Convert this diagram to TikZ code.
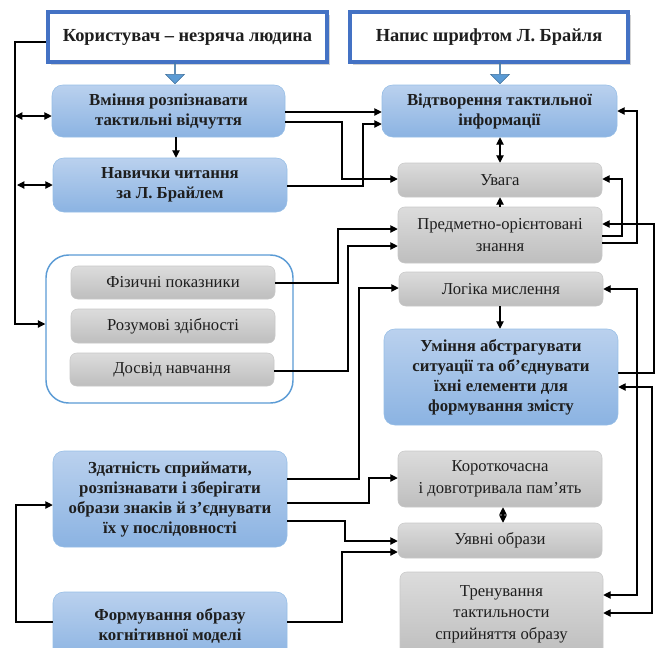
\documentclass[tikz,border=0pt]{standalone}
\usepackage{fontspec}
\setmainfont{Liberation Serif}
\usetikzlibrary{positioning,arrows.meta,shapes.arrows,shadows}
\definecolor{titleblue}{RGB}{68,114,196}
\definecolor{bluetop}{RGB}{186,209,238}
\definecolor{bluebot}{RGB}{139,179,226}
\definecolor{blueedge}{RGB}{150,190,230}
\definecolor{graytop}{RGB}{220,220,220}
\definecolor{graybot}{RGB}{190,190,190}
\definecolor{grayedge}{RGB}{200,200,200}
\definecolor{grpedge}{RGB}{91,155,213}
\definecolor{arrfill}{RGB}{91,155,213}
\definecolor{arredge}{RGB}{65,113,156}
\definecolor{txt}{RGB}{30,30,30}

\begin{document}
\begin{tikzpicture}[
    x=0.75pt, y=-0.75pt,
    every node/.style={font=\rmfamily\fontsize{12.5}{15}\selectfont, text=txt},
    wh/.style 2 args={minimum width=#1*0.75pt, minimum height=#2*0.75pt},
    titlebox/.style={
        rectangle, draw=titleblue, line width=3pt, fill=white, inner sep=0pt,
        drop shadow={shadow xshift=2pt, shadow yshift=-2pt, opacity=0.35},
        font=\rmfamily\fontsize{13.8}{16}\selectfont\bfseries, align=center
    },
    skillbox/.style={
        rectangle, rounded corners=8pt, draw=blueedge, top color=bluetop,
        bottom color=bluebot, inner sep=0pt, align=center,
        font=\rmfamily\fontsize{12.6}{15}\selectfont\bfseries
    },
    factor/.style={
        rectangle, rounded corners=5pt, draw=grayedge, top color=graytop,
        bottom color=graybot, inner sep=0pt, align=center,
        font=\rmfamily\fontsize{12.5}{16.2}\selectfont
    },
    groupbox/.style={
        rectangle, rounded corners=17pt, draw=grpedge, line width=1.1pt, fill=white
    },
    blockarrow/.style={
        single arrow, draw=arredge, fill=arrfill, rotate=-90, inner sep=0pt,
        minimum height=21*0.75pt, minimum width=19*0.75pt,
        single arrow head extend=4*0.75pt
    },
    conn/.style={-{Triangle[length=5.5pt,width=5.5pt]}, line width=0.8pt},
    both/.style={{Triangle[length=5.5pt,width=5.5pt]}-{Triangle[length=5.5pt,width=5.5pt]}, line width=0.8pt}
]
\useasboundingbox (0,0) rectangle (657,647);

% Top: user and the braille text
\node[titlebox, wh={279}{50}] (user)    at (187.5,37) {Користувач – незряча людина};
\node[titlebox, wh={278}{50}] (braille) at (489,37)   {Напис шрифтом Л. Брайля};

% Left column
\node[skillbox, wh={233}{52}] (vmin) at (168.5,111) {Вміння розпізнавати\\тактильні відчуття};
\node[skillbox, wh={234}{54}] (navy) at (170,185)   {Навички читання\\за Л. Брайлем};

\node[groupbox, wh={247}{148}] (grp) at (169.5,329) {};
\node[factor, wh={204}{33}] (fiz)    at (173,282.5) {Фізичні показники};
\node[factor, wh={204}{34}] (rozum)  at (173,326)   {Розумові здібності};
\node[factor, wh={204}{33}] (dosvid) at (172,369.5) {Досвід навчання};

\node[skillbox, wh={234}{96}] (zdat) at (170,499) {Здатність сприймати,\\розпізнавати і зберігати\\образи знаків й з’єднувати\\їх у послідовності};
\node[skillbox, wh={234}{68}] (form) at (170,626) {Формування образу\\когнітивної моделі};

% Right column
\node[skillbox, wh={235}{52}] (vidt)   at (499.5,111) {Відтворення тактильної\\інформації};
\node[factor, wh={204}{34}]   (uvaga)  at (500,180)   {Увага};
\node[factor, wh={204}{56}]   (predm)  at (500,235)   {Предметно-орієнтовані\\знання};
\node[factor, wh={204}{34}]   (logika) at (501,289)   {Логіка мислення};
\node[skillbox, wh={234}{96}] (umin)   at (501,377)   {Уміння абстрагувати\\ситуації та об’єднувати\\їхні елементи для\\формування змісту};
\node[factor, wh={204}{56}]   (korot)  at (500,479)   {Короткочасна\\і довготривала пам’ять};
\node[factor, wh={204}{35}]   (uyav)   at (500,540.5) {Уявні образи};
\node[factor, wh={203}{84}]   (tren)   at (501.5,614) {Тренування\\тактильности\\сприйняття образу};

% ── block arrows from the titles ────────────────────────────
\node[blockarrow] (ua) at (175,73) {};
\node[blockarrow] (ba) at (500,73) {};

% ── vertical links ──────────────────────────────────────────
\draw[conn] (vmin.south -| 176,0) -- (navy.north -| 176,0);
\draw[both] (vidt.south -| 500,0) -- (uvaga.north -| 500,0);
\draw[conn] (predm.north -| 500,0) -- (uvaga.south -| 500,0);
\draw[conn] (logika.south -| 500,0) -- (umin.north -| 500,0);
\draw[both] (korot.south -| 503,0) -- (uyav.north -| 503,0);

% ── left bus ────────────────────────────────────────────────
\draw[conn] (user.west |- 0,42) -- (15,42) -- (15,324) -- (grp.west |- 0,324);
\draw[both] (15,116) -- (vmin.west |- 0,116);
\draw[both] (17,185) -- (navy.west |- 0,185);
\draw[conn] (form.west |- 0,622) -- (16,622) |- (zdat.west |- 0,505);

% ── links into the right column ─────────────────────────────
\draw[conn] (vmin.east |- 0,112) -- (vidt.west |- 0,112);
\draw[conn] (vmin.east |- 0,122) -| (342,179) -- (uvaga.west |- 0,179);
\draw[conn] (navy.east |- 0,186) -| (363,124) -- (vidt.west |- 0,124);
\draw[conn] (fiz.east |- 0,283) -| (338,229) -- (predm.west |- 0,229);
\draw[conn] (dosvid.east |- 0,371) -| (348,246) -- (predm.west |- 0,246);
\draw[conn] (zdat.east |- 0,479) -| (359,288) -- (logika.west |- 0,288);
\draw[conn] (zdat.east |- 0,503) -| (369,478) -- (korot.west |- 0,478);
\draw[conn] (zdat.east |- 0,521) -| (345,541) -- (uyav.west |- 0,541);
\draw[conn] (form.east |- 0,622) -| (342,552) -- (uyav.west |- 0,552);

% ── feedback on the right ───────────────────────────────────
\draw[conn] (predm.east |- 0,243) -| (637,111) -- (vidt.east |- 0,111);
\draw[conn] (predm.east |- 0,236) -| (622,179) -- (uvaga.east |- 0,179);
\draw[conn] (umin.east |- 0,373) -| (654,224) -- (predm.east |- 0,224);
\draw[both] (logika.east |- 0,289) -| (637,595) -- (tren.east |- 0,595);
\draw[both] (umin.east |- 0,387) -| (652,613) -- (tren.east |- 0,613);

\end{tikzpicture}
\end{document}
